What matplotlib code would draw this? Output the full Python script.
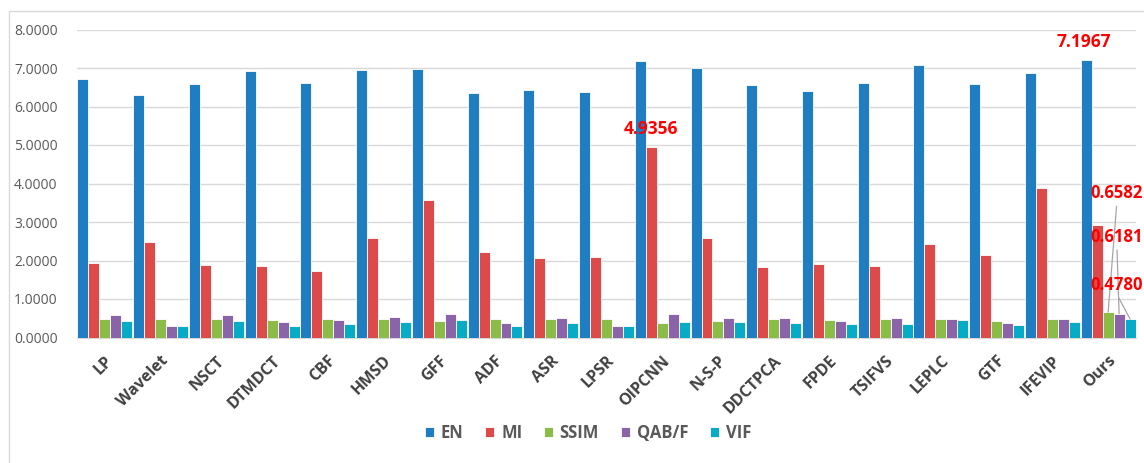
import matplotlib
matplotlib.use("Agg")
import matplotlib.pyplot as plt
import numpy as np
from matplotlib.patches import Rectangle

methods = ["LP", "Wavelet", "NSCT", "DTMDCT", "CBF", "HMSD", "GFF", "ADF", "ASR",
           "LPSR", "OIPCNN", "N-S-P", "DDCTPCA", "FPDE", "TSIFVS", "LEPLC", "GTF",
           "IFEVIP", "Ours"]

en = [6.71, 6.31, 6.58, 6.93, 6.60, 6.96, 6.97, 6.34, 6.43, 6.37, 7.19, 7.00,
      6.56, 6.39, 6.62, 7.08, 6.58, 6.87, 7.1967]
mi = [1.94, 2.49, 1.88, 1.86, 1.73, 2.59, 3.57, 2.21, 2.06, 2.08, 4.9356, 2.59,
      1.83, 1.90, 1.86, 2.42, 2.15, 3.88, 2.92]
ssim = [0.48, 0.48, 0.48, 0.45, 0.48, 0.48, 0.42, 0.48, 0.48, 0.48, 0.38, 0.43,
        0.48, 0.46, 0.48, 0.48, 0.42, 0.48, 0.6582]
qabf = [0.59, 0.29, 0.58, 0.40, 0.46, 0.53, 0.61, 0.38, 0.50, 0.31, 0.60, 0.50,
        0.50, 0.42, 0.50, 0.48, 0.37, 0.48, 0.6181]
vif = [0.44, 0.29, 0.42, 0.29, 0.36, 0.39, 0.46, 0.31, 0.38, 0.29, 0.39, 0.39,
       0.38, 0.34, 0.36, 0.45, 0.33, 0.39, 0.4780]

series = ["EN", "MI", "SSIM", "QAB/F", "VIF"]
colors = ["#1F7EC1", "#DC4B49", "#8BBC47", "#8A63A8", "#07ABC5"]
yticks = [0, 1, 2, 3, 4, 5, 6, 7, 8]

plt.rcParams["font.family"] = ["Open Sans", "DejaVu Sans"]

W, H = 1144, 463
fig = plt.figure(figsize=(W / 100, H / 100), dpi=100)

# light outer frame of the chart area
fig.patches.append(Rectangle((9 / W, -0.1), 2.0, (H - 11) / H + 0.1,
                             transform=fig.transFigure, fill=False,
                             edgecolor="#D9D9D9", linewidth=1.0))

ax = fig.add_axes([77 / W, 125.5 / H, (1136 - 77) / W, 308 / H])

x = np.arange(len(methods))
bw = 0.197
data = [en, mi, ssim, qabf, vif]
for k, (vals, col, name) in enumerate(zip(data, colors, series)):
    ax.bar(x + (k - 2) * bw, vals, width=bw, color=col, edgecolor="white",
           linewidth=0.6, label=name, zorder=3)

ax.set_xlim(-0.5, len(methods) - 0.5)
ax.set_ylim(0, 8)
ax.set_yticks(yticks)
ax.set_yticklabels([f"{v:.4f}" for v in yticks], fontsize=10, color="#595959")
ax.yaxis.grid(True, color="#D9D9D9", linewidth=1.0, zorder=0)
ax.tick_params(axis="y", length=0, pad=14)
ax.tick_params(axis="x", length=0, pad=11)
ax.set_xticks(x)
ax.set_xticklabels(methods, rotation=45, ha="right", rotation_mode="anchor",
                   fontsize=11.5, fontweight="bold", color="#404040")
for s in ["top", "right", "left"]:
    ax.spines[s].set_visible(False)
ax.spines["bottom"].set_color("#D9D9D9")
ax.spines["bottom"].set_linewidth(1.0)

red = "#FF0000"
lbl_kw = dict(color=red, fontsize=12.5, fontweight="bold", annotation_clip=False)

# headline values
ours = len(methods) - 1
ax.annotate(f"{en[ours]:.4f}", xy=(x[ours] - 2 * bw, en[ours]), xytext=(-2, 13),
            textcoords="offset points", ha="center", va="center", **lbl_kw)
oi = methods.index("OIPCNN")
ax.annotate(f"{mi[oi]:.4f}", xy=(x[oi] - bw, mi[oi]), xytext=(0, 13),
            textcoords="offset points", ha="center", va="center", **lbl_kw)

# small metrics of the proposed method with leader lines
small_kw = dict(lbl_kw, fontsize=12)
line_kw = dict(arrowstyle="-", color="#A6A6A6", linewidth=0.9,
               relpos=(0.5, 0.0), shrinkA=1, shrinkB=0)
for k, vals, off in [(2, ssim, (-12.5, 85.7)), (3, qabf, (-20.5, 55.4)),
                     (4, vif, (-28.5, 24.5))]:
    ax.annotate(f"{vals[ours]:.4f}", xy=(x[ours] + (k - 2) * bw, vals[ours]),
                xytext=off, textcoords="offset points", ha="left", va="center",
                arrowprops=line_kw, **small_kw)

leg = fig.legend(loc="center", bbox_to_anchor=(588 / W, 30 / H), ncol=5,
                 frameon=False, handlelength=0.55, handleheight=0.55,
                 handletextpad=0.4, columnspacing=1.3,
                 prop={"size": 12, "weight": "bold"})
for t in leg.get_texts():
    t.set_color("#595959")

fig.savefig("out.png", dpi=100)
